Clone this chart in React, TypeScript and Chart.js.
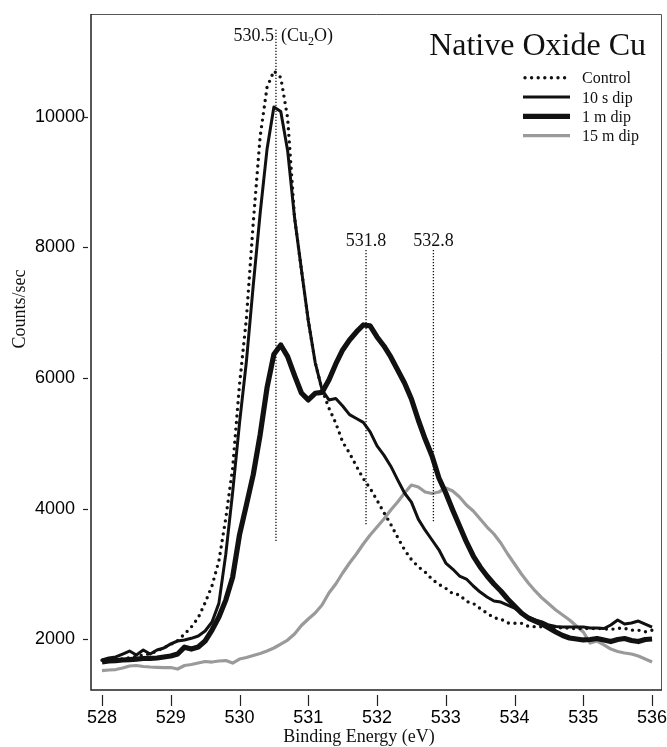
import { useEffect, useRef } from 'react';
import { Chart, registerables } from 'chart.js';

Chart.register(...registerables);

// Binding energy (eV)
const energy = [
  528.0, 528.1, 528.2, 528.3, 528.4, 528.5, 528.6, 528.7, 528.8, 528.9,
  529.0, 529.1, 529.2, 529.3, 529.4, 529.5, 529.6, 529.7, 529.8, 529.9,
  530.0, 530.1, 530.2, 530.3, 530.4, 530.5, 530.6, 530.7, 530.8, 530.9,
  531.0, 531.1, 531.2, 531.3, 531.4, 531.5, 531.6, 531.7, 531.8, 531.9,
  532.0, 532.1, 532.2, 532.3, 532.4, 532.5, 532.6, 532.7, 532.8, 532.9,
  533.0, 533.1, 533.2, 533.3, 533.4, 533.5, 533.6, 533.7, 533.8, 533.9,
  534.0, 534.1, 534.2, 534.3, 534.4, 534.5, 534.6, 534.7, 534.8, 534.9,
  535.0, 535.1, 535.2, 535.3, 535.4, 535.5, 535.6, 535.7, 535.8, 535.9,
  536.0,
];

// Counts/sec
const control = [
  1680, 1680, 1690, 1700, 1720, 1740, 1760, 1780, 1820, 1870,
  1920, 1980, 2080, 2190, 2330, 2560, 2820, 3200, 3850, 4620,
  5900, 6910, 8380, 9695, 10450, 10700, 10600, 9980, 8460, 7660,
  6880, 6240, 5820, 5540, 5310, 5020, 4850, 4650, 4460, 4310,
  4130, 3940, 3760, 3560, 3370, 3220, 3110, 3030, 2920, 2840,
  2780, 2700, 2680, 2580, 2550, 2470, 2400, 2330, 2310, 2250,
  2245, 2245, 2200, 2193, 2190, 2180, 2170, 2180, 2170, 2160,
  2170, 2160, 2170, 2160, 2150, 2170, 2168, 2140, 2140, 2115,
  2140,
];

const dip10s = [
  1683, 1714, 1730, 1775, 1820, 1760, 1836, 1775, 1836, 1867,
  1930, 1974, 1990, 2015, 2050, 2127, 2265, 2550, 3300, 4250,
  5310, 6250, 7420, 8520, 9500, 10150, 10080, 9480, 8460, 7660,
  6880, 6240, 5820, 5664, 5687, 5572, 5440, 5380, 5320, 5174,
  4960, 4820, 4650, 4440, 4240, 4100, 3840, 3670, 3520, 3370,
  3168, 3076, 2969, 2923, 2816, 2724, 2648, 2586, 2571, 2525,
  2479, 2403, 2342, 2296, 2265, 2219, 2196, 2188, 2188, 2188,
  2188, 2173, 2173, 2165, 2219, 2295, 2234, 2250, 2280, 2234,
  2188,
];

const dip1m = [
  1652, 1668, 1675, 1683, 1690, 1698, 1706, 1709, 1714, 1729,
  1744, 1775, 1880, 1850, 1882, 1974, 2142, 2341, 2600, 2950,
  3600, 4056, 4523, 5132, 5850, 6363, 6506, 6327, 6040, 5770,
  5664, 5766, 5780, 5970, 6215, 6429, 6582, 6705, 6812, 6797,
  6628, 6490, 6322, 6123, 5924, 5679, 5357, 5066, 4806, 4469,
  4240, 3980, 3735, 3490, 3275, 3107, 2969, 2847, 2740, 2617,
  2510, 2403, 2326, 2280, 2234, 2173, 2112, 2058, 2020, 2005,
  1990, 1997, 2012, 1990, 1966, 1997, 2012, 1982, 1966, 1997,
  2005,
];

const dip15m = [
  1522, 1530, 1537, 1560, 1591, 1599, 1584, 1576, 1571, 1568,
  1568, 1545, 1599, 1614, 1637, 1660, 1652, 1668, 1675, 1637,
  1698, 1721, 1752, 1783, 1821, 1867, 1928, 1989, 2081, 2211,
  2311, 2403, 2525, 2709, 2847, 3015, 3168, 3306, 3459, 3597,
  3719, 3842, 3980, 4102, 4240, 4362, 4332, 4255, 4232, 4255,
  4316, 4270, 4179, 4056, 3964, 3842, 3719, 3612, 3474, 3306,
  3153, 3000, 2862, 2740, 2632, 2541, 2449, 2372, 2295, 2204,
  2112, 1943, 1974, 1913, 1851, 1813, 1790, 1775, 1744, 1698,
  1652,
];

const seriesNames = ['Control', '10 s dip', '1 m dip', '15 m dip'];
const xTicks = [528, 529, 530, 531, 532, 533, 534, 535, 536];
const yTicks = [2000, 4000, 6000, 8000, 10000];

// peak marker lines: energy, counts range, label, label baseline (counts)
const peakEnergies = [530.53, 531.84, 532.82];
const peakFrom = [3500, 3750, 3800];
const peakTo = [11330, 7960, 7960];
const peakLabels = ['530.5', '531.8', '532.8'];
const peakLabelAt = [11160, 8014, 8014];

const chartTitle = 'Native Oxide Cu';
const xTitle = 'Binding Energy (eV)';
const yTitle = 'Counts/sec';

const SERIF = '"Liberation Serif", "Times New Roman", serif';
const SANS = '"Liberation Sans", Arial, sans-serif';
const BLACK = '#111111';
const GRAY = '#9a9a9a';

const lineStyles = [
  { color: BLACK, width: 3.4, dash: [0, 6.6], cap: 'round' as CanvasLineCap },
  { color: BLACK, width: 3, dash: [] as number[], cap: 'butt' as CanvasLineCap },
  { color: BLACK, width: 5.2, dash: [] as number[], cap: 'butt' as CanvasLineCap },
  { color: GRAY, width: 3.2, dash: [] as number[], cap: 'butt' as CanvasLineCap },
];

const decorPlugin = {
  id: 'decor',
  afterDatasetsDraw(chart: any) {
    const { ctx, chartArea, scales } = chart;
    const xs = scales.x;
    const ys = scales.y;
    const { left, right, top, bottom } = chartArea;
    ctx.save();

    // frame
    ctx.setLineDash([]);
    ctx.strokeStyle = '#555';
    ctx.lineWidth = 1;
    ctx.beginPath();
    ctx.moveTo(left, top + 0.5);
    ctx.lineTo(right + 0.5, top + 0.5);
    ctx.lineTo(right + 0.5, bottom);
    ctx.stroke();
    ctx.strokeStyle = '#222';
    ctx.lineWidth = 1.5;
    ctx.beginPath();
    ctx.moveTo(left, top);
    ctx.lineTo(left, bottom);
    ctx.lineTo(right + 1, bottom);
    ctx.stroke();

    // tick marks (detached from axis)
    ctx.strokeStyle = '#222';
    ctx.lineWidth = 1.2;
    yTicks.forEach((v) => {
      const y = Math.round(ys.getPixelForValue(v)) + 0.5;
      ctx.beginPath();
      ctx.moveTo(left - 8, y);
      ctx.lineTo(left - 3, y);
      ctx.stroke();
    });
    xTicks.forEach((v) => {
      const x = Math.round(xs.getPixelForValue(v)) + 0.5;
      ctx.beginPath();
      ctx.moveTo(x, bottom + 5);
      ctx.lineTo(x, bottom + 16);
      ctx.stroke();
    });

    // peak marker lines and labels
    ctx.strokeStyle = BLACK;
    ctx.fillStyle = BLACK;
    ctx.lineWidth = 1.3;
    peakEnergies.forEach((e, i) => {
      const x = xs.getPixelForValue(e);
      ctx.setLineDash([1.3, 1.7]);
      ctx.beginPath();
      ctx.moveTo(x, ys.getPixelForValue(peakTo[i]));
      ctx.lineTo(x, ys.getPixelForValue(peakFrom[i]));
      ctx.stroke();
      ctx.setLineDash([]);
      const by = ys.getPixelForValue(peakLabelAt[i]);
      ctx.font = `18px ${SERIF}`;
      ctx.textBaseline = 'alphabetic';
      if (i === 0) {
        ctx.textAlign = 'right';
        ctx.fillText(peakLabels[i], x - 2, by);
        ctx.textAlign = 'left';
        let cx = x + 5;
        ctx.fillText('(Cu', cx, by);
        cx += ctx.measureText('(Cu').width;
        ctx.font = `12px ${SERIF}`;
        ctx.fillText('2', cx, by + 4);
        cx += ctx.measureText('2').width;
        ctx.font = `18px ${SERIF}`;
        ctx.fillText('O)', cx, by);
      } else {
        ctx.textAlign = 'center';
        ctx.fillText(peakLabels[i], x, by);
      }
    });

    // title
    ctx.font = `32px ${SERIF}`;
    ctx.textAlign = 'right';
    ctx.textBaseline = 'alphabetic';
    ctx.fillText(chartTitle, right - 15, top + 41);

    // legend
    const lx0 = right - 138;
    const lx1 = right - 91;
    const tx = right - 79;
    seriesNames.forEach((name, i) => {
      const st = lineStyles[i];
      const ly = top + 63.7 + i * 19.3;
      ctx.strokeStyle = st.color;
      ctx.lineWidth = st.width;
      ctx.lineCap = st.cap;
      ctx.setLineDash(st.dash);
      ctx.beginPath();
      ctx.moveTo(lx0 + (st.cap === 'round' ? 2 : 0), ly);
      ctx.lineTo(lx1, ly);
      ctx.stroke();
      ctx.setLineDash([]);
      ctx.lineCap = 'butt';
      ctx.fillStyle = BLACK;
      ctx.font = `16px ${SERIF}`;
      ctx.textAlign = 'left';
      ctx.fillText(name, tx, ly + 5.5);
    });

    // axis titles
    ctx.fillStyle = BLACK;
    ctx.font = `18px ${SERIF}`;
    ctx.textAlign = 'center';
    ctx.textBaseline = 'alphabetic';
    ctx.fillText(xTitle, 359, bottom + 52);
    ctx.save();
    ctx.translate(25, 309);
    ctx.rotate(-Math.PI / 2);
    ctx.fillText(yTitle, 0, 0);
    ctx.restore();

    ctx.restore();
  },
};

export default function App() {
  const canvasRef = useRef<HTMLCanvasElement | null>(null);

  useEffect(() => {
    const canvas = canvasRef.current;
    if (!canvas) return;
    const series = [control, dip10s, dip1m, dip15m];
    const chart = new Chart(canvas, {
      type: 'line',
      data: {
        datasets: series.map((vals, i) => ({
          label: seriesNames[i],
          data: energy.map((e, k) => ({ x: e, y: vals[k] })),
          borderColor: lineStyles[i].color,
          borderWidth: lineStyles[i].width,
          borderDash: lineStyles[i].dash,
          borderCapStyle: lineStyles[i].cap,
          borderJoinStyle: 'round',
          pointRadius: 0,
          tension: 0,
          fill: false,
        })),
      },
      options: {
        animation: false,
        responsive: false,
        devicePixelRatio: 1,
        layout: { padding: { left: 35, top: 14, right: 6, bottom: 0 } },
        plugins: {
          legend: { display: false },
          tooltip: { enabled: false },
          title: { display: false },
        },
        scales: {
          x: {
            type: 'linear',
            min: 527.84,
            max: 536.13,
            grid: { display: false },
            border: { display: false },
            afterBuildTicks: (s: any) => {
              s.ticks = xTicks.map((v) => ({ value: v }));
            },
            afterFit: (s: any) => {
              s.height = 57;
              s.paddingLeft = 0;
              s.paddingRight = 0;
            },
            ticks: {
              font: { family: SANS, size: 18 },
              color: '#000',
              padding: 9,
              maxRotation: 0,
              autoSkip: false,
              callback: (v: any) => String(v),
            },
          },
          y: {
            type: 'linear',
            min: 1224,
            max: 11572,
            grid: { display: false },
            border: { display: false },
            afterBuildTicks: (s: any) => {
              s.ticks = yTicks.map((v) => ({ value: v }));
            },
            afterFit: (s: any) => {
              s.width = 56;
              s.paddingTop = 0;
              s.paddingBottom = 0;
            },
            ticks: {
              font: { family: SANS, size: 18 },
              color: '#000',
              crossAlign: 'far',
              autoSkip: false,
              callback: (v: any) => String(v),
            },
          },
        },
      },
      plugins: [decorPlugin],
    } as any);
    return () => chart.destroy();
  }, []);

  return (
    <div style={{ position: 'absolute', left: 0, top: 0, width: 667, height: 747, background: '#fff' }}>
      <canvas ref={canvasRef} width={667} height={747} style={{ display: 'block' }} />
    </div>
  );
}
